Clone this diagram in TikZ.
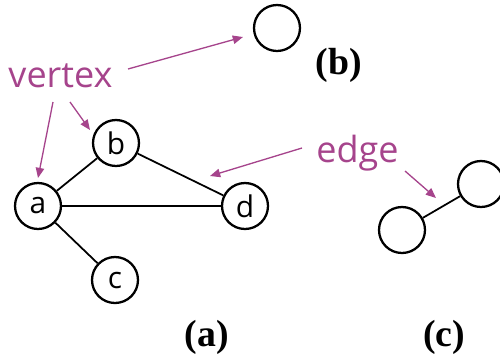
\documentclass[tikz,border=0pt]{standalone}
\usepackage{fontspec}
\setmainfont{Liberation Serif}
\setsansfont{Open Sans}
\usetikzlibrary{arrows.meta}
\definecolor{calloutc}{RGB}{166,68,140}
\begin{document}
\begin{tikzpicture}[x=0.02cm,y=-0.02cm,
  vtx/.style={circle,draw,line width=1.3pt,minimum size=0.92cm,inner sep=0pt,
    font=\sffamily\fontsize{17}{20}\selectfont},
  edgeline/.style={line width=1pt},
  callout/.style={text=calloutc,inner sep=0pt,font=\sffamily\fontsize{20.5}{24}\selectfont},
  pointer/.style={draw=calloutc,line width=0.75pt,-{Triangle[length=5.8pt,width=4.8pt]}},
  caption/.style={inner sep=0pt,font=\bfseries\fontsize{21.5}{25}\selectfont}
]
\useasboundingbox (0,0) rectangle (500,359);

% graph (a)
\node[vtx] (na) at (38,206) {a};
\node[vtx] (nb) at (116,143) {b};
\node[vtx] (nc) at (115,280) {c};
\node[vtx] (nd) at (245,206) {d};
\draw[edgeline] (na) -- (nb);
\draw[edgeline] (nb) -- (nd);
\draw[edgeline] (na) -- (nd);
\draw[edgeline] (na) -- (nc);

% single vertex (b)
\node[vtx] (lone) at (277,28) {};

% single edge (c)
\node[vtx] (ca) at (402,230) {};
\node[vtx] (cb) at (481,184) {};
\draw[edgeline] (ca) -- (cb);

% captions
\node[caption] (capa) at (207,337) {(a)};
\node[caption] (capb) at (339,65) {(b)};
\node[caption] (capc) at (444,337) {(c)};

% callout labels
\node[callout,anchor=base] (lvertex) at (60.5,87) {vertex};
\node[callout,anchor=base] (ledge) at (357.5,162) {edge};

% pointer ends
\coordinate (s1) at (128,69);  \coordinate (t1) at (243,37);
\coordinate (s2) at (53,102);  \coordinate (t2) at (38,178);
\coordinate (s3) at (70,102);  \coordinate (t3) at (90,130);
\coordinate (s4) at (302,148); \coordinate (t4) at (210,176);
\coordinate (s5) at (405,171); \coordinate (t5) at (436,198);

\draw[pointer] (s1) -- (t1);
\draw[pointer] (s2) -- (t2);
\draw[pointer] (s3) -- (t3);
\draw[pointer] (s4) -- (t4);
\draw[pointer] (s5) -- (t5);
\end{tikzpicture}
\end{document}
